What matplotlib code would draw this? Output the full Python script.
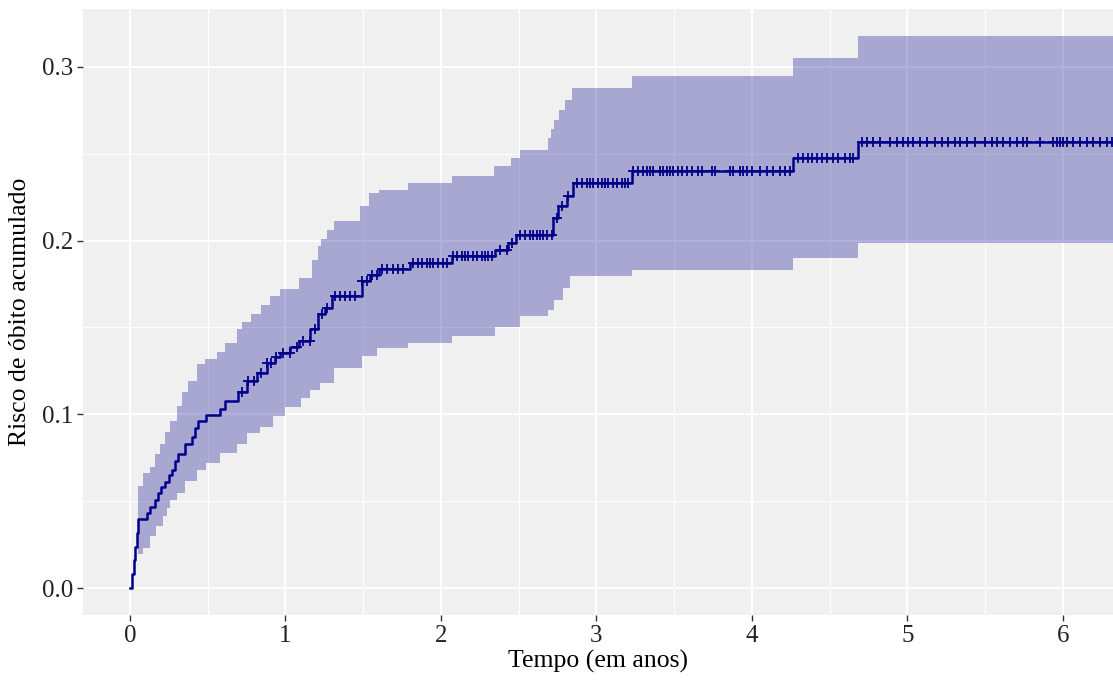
import numpy as np
import matplotlib
matplotlib.use("Agg")
import matplotlib.pyplot as plt

plt.rcParams['font.family'] = ['Liberation Serif', 'DejaVu Serif']

# cumulative risk curve (step, post)
risk_t = [0, 0.012, 0.024, 0.035, 0.045, 0.053, 0.11, 0.129, 0.16, 0.18, 0.20, 0.225,
          0.25, 0.268, 0.29, 0.31, 0.354, 0.397, 0.42, 0.44, 0.49, 0.58, 0.61, 0.697,
          0.75, 0.815, 0.88, 0.93, 0.965, 1.03, 1.09, 1.16, 1.21, 1.254, 1.297, 1.49,
          1.543, 1.6, 1.80, 2.07, 2.35, 2.43, 2.48, 2.72, 2.755, 2.81, 2.85, 3.226,
          4.266, 4.684, 6.4]
risk_y = [0, 0.008, 0.016, 0.024, 0.032, 0.040, 0.043, 0.047, 0.051, 0.055, 0.058, 0.061,
          0.065, 0.068, 0.073, 0.077, 0.083, 0.087, 0.092, 0.096, 0.0994, 0.103, 0.1076, 0.113,
          0.119, 0.124, 0.1297, 0.133, 0.1355, 0.139, 0.142, 0.149, 0.158, 0.161, 0.168, 0.1766,
          0.180, 0.1835, 0.187, 0.191, 0.1948, 0.1987, 0.2034, 0.213, 0.2198, 0.2255, 0.233, 0.2398,
          0.2475, 0.2565, 0.2565]

# confidence band limits
up_t = [0.053, 0.086, 0.129, 0.16, 0.193, 0.225, 0.257, 0.30, 0.332, 0.375, 0.43, 0.48,
        0.557, 0.61, 0.686, 0.72, 0.78, 0.84, 0.90, 0.965, 1.09, 1.17, 1.21, 1.23, 1.27,
        1.31, 1.48, 1.54, 1.6, 1.79, 2.07, 2.34, 2.45, 2.51, 2.69, 2.71, 2.73, 2.76, 2.8,
        2.84, 3.226, 4.266, 4.684, 6.4]
up_y = [0.0588, 0.0665, 0.070, 0.077, 0.083, 0.090, 0.096, 0.105, 0.113, 0.119, 0.129, 0.1316,
        0.136, 0.141, 0.149, 0.153, 0.158, 0.163, 0.168, 0.172, 0.1786, 0.189, 0.1967, 0.2006, 0.206,
        0.211, 0.2198, 0.2274, 0.229, 0.233, 0.237, 0.2427, 0.2474, 0.252, 0.259, 0.264, 0.2695, 0.275, 0.281,
        0.2877, 0.2944, 0.305, 0.3174, 0.3174]

lo_t = [0.053, 0.086, 0.129, 0.17, 0.214, 0.235, 0.257, 0.30, 0.354, 0.43, 0.49, 0.58,
        0.686, 0.75, 0.836, 0.92, 1.0, 1.10, 1.16, 1.22, 1.31, 1.49, 1.586, 1.79, 2.07,
        2.35, 2.51, 2.69, 2.73, 2.786, 2.83, 3.226, 4.266, 4.684, 6.4]
lo_y = [0.0195, 0.0234, 0.030, 0.0358, 0.0416, 0.046, 0.051, 0.055, 0.0617, 0.068, 0.072, 0.078,
        0.083, 0.0895, 0.093, 0.099, 0.104, 0.1096, 0.114, 0.118, 0.1268, 0.1335, 0.138, 0.141, 0.145,
        0.150, 0.1565, 0.160, 0.166, 0.1728, 0.1795, 0.1833, 0.190, 0.1985, 0.1985]

# censoring times (years)
censor_t = [0.72, 0.76, 0.80, 0.84, 0.88, 0.91, 0.94, 0.986, 1.029, 1.072, 1.115, 1.158,
            1.19, 1.233, 1.265, 1.318, 1.35, 1.383, 1.415, 1.447, 1.49, 1.522, 1.554, 1.586,
            1.619, 1.651, 1.693, 1.725, 1.758, 1.822, 1.854, 1.876, 1.908, 1.929, 1.951, 1.983,
            2.015, 2.037, 2.079, 2.1, 2.133, 2.154, 2.176, 2.208, 2.229, 2.262, 2.283, 2.304,
            2.326, 2.379, 2.423, 2.455, 2.508, 2.54, 2.572, 2.594, 2.615, 2.637, 2.658, 2.68,
            2.712, 2.744, 2.776, 2.819, 2.872, 2.905, 2.937, 2.958, 2.979, 3.012, 3.033, 3.055,
            3.076, 3.108, 3.13, 3.162, 3.183, 3.205, 3.237, 3.269, 3.301, 3.323, 3.344, 3.365,
            3.408, 3.43, 3.451, 3.473, 3.494, 3.526, 3.548, 3.58, 3.612, 3.655, 3.677, 3.741,
            3.762, 3.859, 3.88, 3.923, 3.944, 3.966, 3.998, 4.051, 4.094, 4.137, 4.18, 4.212,
            4.244, 4.298, 4.33, 4.362, 4.384, 4.416, 4.448, 4.48, 4.523, 4.555, 4.598, 4.63,
            4.652, 4.705, 4.737, 4.78, 4.823, 4.887, 4.93, 4.973, 5.005, 5.037, 5.08, 5.123,
            5.177, 5.22, 5.262, 5.305, 5.338, 5.38, 5.434, 5.498, 5.541, 5.574, 5.616, 5.659,
            5.702, 5.745, 5.766, 5.852, 5.938, 5.959, 5.981, 6.002, 6.024, 6.066, 6.109, 6.152,
            6.195, 6.238, 6.281, 6.313]

fig = plt.figure(figsize=(11.13, 6.84), dpi=100)
ax = fig.add_axes([0.0746, 0.1006, 0.9254, 0.8866])
ax.set_facecolor('#F0F0F0')

ax.set_xlim(-0.302, 6.322)
ax.set_ylim(-0.0155, 0.3333)

# ggplot-like grid
for v in np.arange(0.5, 6.5, 1.0):
    ax.axvline(v, color='white', lw=0.7, zorder=0)
for v in [0.05, 0.15, 0.25]:
    ax.axhline(v, color='white', lw=0.7, zorder=0)
ax.grid(True, color='white', lw=1.4, zorder=0)
ax.set_axisbelow(True)

# step evaluation of both limits on a common grid
band_t = np.union1d(up_t, lo_t)
up_s = np.array(up_y)[np.searchsorted(up_t, band_t, side='right') - 1]
lo_s = np.array(lo_y)[np.searchsorted(lo_t, band_t, side='right') - 1]
ax.fill_between(band_t, lo_s, up_s, step='post', color='#00008B', alpha=0.3, lw=0, zorder=2)

ax.step(risk_t, risk_y, where='post', color='#00008B', lw=1.8, zorder=3)

ct = np.array(censor_t)
cy = np.array(risk_y)[np.searchsorted(risk_t, ct, side='right') - 1]
ax.plot(ct, cy, ls='none', marker='+', ms=7.5, mew=1.3, color='#00008B', zorder=4)

ax.set_xticks(range(0, 7))
ax.set_yticks([0.0, 0.1, 0.2, 0.3])
ax.set_yticklabels(['0.0', '0.1', '0.2', '0.3'])
ax.tick_params(axis='both', length=4, width=1, color='#333333', labelsize=18,
               labelcolor='#222222', pad=3)
for s in ax.spines.values():
    s.set_visible(False)

ax.set_xlabel('Tempo (em anos)', fontsize=18.5, labelpad=2)
ax.set_ylabel('Risco de óbito acumulado', fontsize=18.5, labelpad=8)

fig.savefig('out.png', dpi=100)
